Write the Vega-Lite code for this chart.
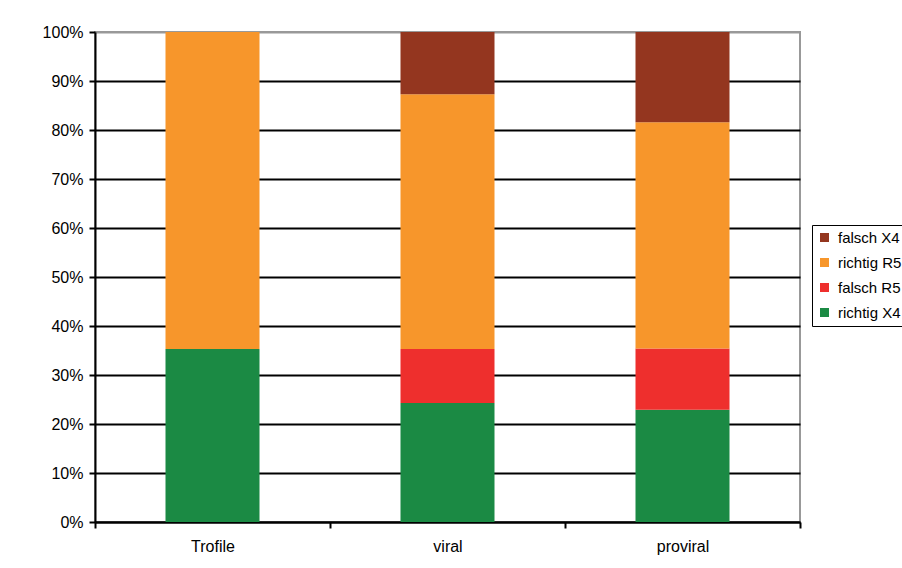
{
  "$schema": "https://vega.github.io/schema/vega-lite/v6.json",
  "width": 705,
  "height": 490,
  "autosize": "none",
  "padding": {"left": 95, "top": 32, "right": 102, "bottom": 46},
  "background": "white",
  "config": {
    "view": {"stroke": "#999999", "strokeWidth": 2},
    "font": "Liberation Sans"
  },
  "data": {
    "values": [
      {"cat": "Trofile", "series": "richtig X4", "rank": 1, "value": 35.3},
      {"cat": "Trofile", "series": "richtig R5", "rank": 3, "value": 64.7},
      {"cat": "viral", "series": "richtig X4", "rank": 1, "value": 24.3},
      {"cat": "viral", "series": "falsch R5", "rank": 2, "value": 11.0},
      {"cat": "viral", "series": "richtig R5", "rank": 3, "value": 52.0},
      {"cat": "viral", "series": "falsch X4", "rank": 4, "value": 12.7},
      {"cat": "proviral", "series": "richtig X4", "rank": 1, "value": 22.9},
      {"cat": "proviral", "series": "falsch R5", "rank": 2, "value": 12.5},
      {"cat": "proviral", "series": "richtig R5", "rank": 3, "value": 46.2},
      {"cat": "proviral", "series": "falsch X4", "rank": 4, "value": 18.4}
    ]
  },
  "mark": {"type": "bar", "width": {"band": 0.4}},
  "encoding": {
    "x": {
      "field": "cat",
      "type": "nominal",
      "sort": ["Trofile", "viral", "proviral"],
      "scale": {"paddingInner": 0, "paddingOuter": 0},
      "axis": {
        "title": null,
        "labelAngle": 0,
        "tickBand": "extent",
        "grid": false,
        "domainColor": "black",
        "domainWidth": 2,
        "tickColor": "black",
        "tickWidth": 2,
        "tickSize": 6,
        "labelFont": "Liberation Sans",
        "labelFontSize": 16,
        "labelColor": "black",
        "labelPadding": 10
      }
    },
    "y": {
      "field": "value",
      "type": "quantitative",
      "stack": "zero",
      "scale": {"domain": [0, 100], "nice": false},
      "axis": {
        "title": null,
        "values": [0, 10, 20, 30, 40, 50, 60, 70, 80, 90, 100],
        "labelExpr": "datum.value + '%'",
        "grid": true,
        "gridColor": {"condition": {"test": "datum.value === 100", "value": "#999999"}, "value": "black"},
        "gridWidth": 2,
        "domainColor": "black",
        "domainWidth": 2,
        "tickColor": "black",
        "tickWidth": 2,
        "tickSize": 6,
        "labelFont": "Liberation Sans",
        "labelFontSize": 16,
        "labelColor": "black",
        "labelPadding": 6
      }
    },
    "color": {
      "field": "series",
      "type": "nominal",
      "scale": {
        "domain": ["falsch X4", "richtig R5", "falsch R5", "richtig X4"],
        "range": ["#94361f", "#f7962b", "#ee2f2d", "#1b8a44"]
      },
      "legend": {
        "title": null,
        "orient": "none",
        "legendX": 717,
        "legendY": 193,
        "strokeColor": "black",
        "fillColor": "white",
        "padding": 5,
        "symbolType": "square",
        "symbolSize": 81,
        "symbolStrokeWidth": 0,
        "symbolOpacity": 1,
        "labelFont": "Liberation Sans",
        "labelFontSize": 15,
        "labelColor": "black",
        "labelOffset": 6,
        "rowPadding": 9
      }
    },
    "order": {"field": "rank", "type": "quantitative"}
  }
}
